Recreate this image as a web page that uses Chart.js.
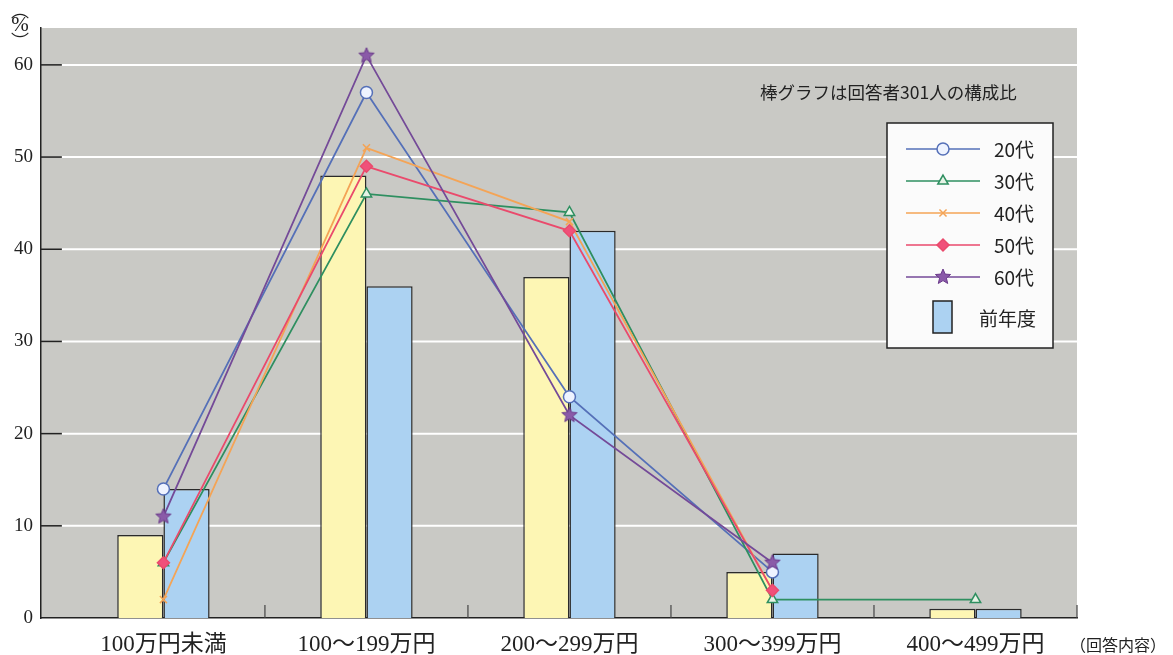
<!DOCTYPE html>
<html><head><meta charset="utf-8">
<script src="https://cdn.jsdelivr.net/npm/chart.js@4/dist/chart.umd.min.js"></script>
<style>html,body{margin:0;padding:0;background:#fff;}#wrap{width:1173px;height:655px;}</style>
</head><body><div id="wrap"><canvas id="c" width="1173" height="655"></canvas></div>
<script>
const categories = ['100万円未満','100～199万円','200～299万円','300～399万円','400～499万円'];
const currentBars = [9, 48, 37, 5, 1];      // 棒グラフ（回答者301人）
const prevYear   = [14, 36, 42, 7, 1];      // 前年度
const age20 = [14, 57, 24, 5, null];
const age30 = [6, 46, 44, 2, 2];
const age40 = [2, 51, 43, 3, null];
const age50 = [6, 49, 42, 3, null];
const age60 = [11, 61, 22, 6, null];
const yTicks = [0, 10, 20, 30, 40, 50, 60];
const note = '棒グラフは回答者301人の構成比';
const xTitle = '（回答内容）';

const toXY = arr => arr.map((v, i) => ({x: i, y: v}));

function makeStar(r, fill, stroke) {
  const c = document.createElement('canvas');
  const s = r * 2 + 4; c.width = s; c.height = s;
  const g = c.getContext('2d');
  g.beginPath();
  for (let k = 0; k < 10; k++) {
    const rr = k % 2 === 0 ? r : r * 0.45;
    const a = -Math.PI / 2 + k * Math.PI / 5;
    const px = s / 2 + rr * Math.cos(a), py = s / 2 + rr * Math.sin(a);
    k === 0 ? g.moveTo(px, py) : g.lineTo(px, py);
  }
  g.closePath(); g.fillStyle = fill; g.fill(); g.strokeStyle = stroke; g.lineWidth = 1; g.stroke();
  return c;
}
const starImg = makeStar(8, '#8a5aa8', '#6a3a8a');

const lineSeries = [
  {label:'20代', data:age20, color:'#5570b8', pointStyle:'circle', radius:6, fill:'#eef3ff'},
  {label:'30代', data:age30, color:'#2e8f60', pointStyle:'triangle', radius:6, fill:'#e6f3e6'},
  {label:'40代', data:age40, color:'#f4a456', pointStyle:'crossRot', radius:5, fill:'#f4a456'},
  {label:'50代', data:age50, color:'#ea4a6c', pointStyle:'rectRot', radius:6, fill:'#f0507a'},
  {label:'60代', data:age60, color:'#744a98', pointStyle:starImg, radius:8, fill:'#8a5aa8'}
];

const datasets = [
  {type:'bar', label:'今年度', data:toXY(currentBars), backgroundColor:'#fdf6b4', borderColor:'#2a2a2a', borderWidth:1.5, order:5, barPercentage:1, categoryPercentage:0.455},
  {type:'bar', label:'前年度', data:toXY(prevYear), backgroundColor:'#acd2f2', borderColor:'#2a2a2a', borderWidth:1.5, order:5, barPercentage:1, categoryPercentage:0.455}
].concat(lineSeries.map((s, k) => ({
  type:'line', label:s.label, data:toXY(s.data), borderColor:s.color, borderWidth:1.8,
  pointStyle:s.pointStyle, pointRadius:s.radius, pointBackgroundColor:s.fill, pointBorderColor:s.color,
  pointBorderWidth:1.5, tension:0, spanGaps:false, order:4 - k, fill:false
})));

const serif = '"Liberation Serif", "DejaVu Serif", "Noto Sans CJK JP", serif';
const sans = '"Noto Sans CJK JP", "Noto Sans", sans-serif';

const decor = {
  id:'decor',
  beforeDraw(chart) {
    const {ctx, chartArea:a, scales:{x, y}} = chart;
    ctx.save();
    ctx.fillStyle = '#c9c9c5';
    ctx.fillRect(a.left, a.top, a.right - a.left, a.bottom - a.top);
    const gx = x.getPixelForValue(-0.5);
    yTicks.forEach(t => {
      if (t === 0) return;
      const py = y.getPixelForValue(t);
      ctx.strokeStyle = '#222'; ctx.lineWidth = 1.5;
      ctx.beginPath(); ctx.moveTo(a.left, py); ctx.lineTo(gx, py); ctx.stroke();
      ctx.strokeStyle = '#ffffff'; ctx.lineWidth = 2;
      ctx.beginPath(); ctx.moveTo(gx, py); ctx.lineTo(a.right, py); ctx.stroke();
    });
    ctx.restore();
  },
  afterDatasetsDraw(chart) {
    const {ctx, chartArea:a, scales:{x}} = chart;
    ctx.save();
    ctx.strokeStyle = '#444'; ctx.lineWidth = 1.2;
    for (let i = 0; i < categories.length; i++) {
      const px = x.getPixelForValue(i + 0.5);
      ctx.beginPath(); ctx.moveTo(px, a.bottom); ctx.lineTo(px, a.bottom - 13); ctx.stroke();
    }
    ctx.restore();
  },
  afterDraw(chart) {
    const {ctx} = chart;
    ctx.save();
    ctx.fillStyle = '#222'; ctx.textAlign = 'center'; ctx.textBaseline = 'middle';
    ctx.font = '18px ' + sans;
    ctx.fillText('︵', 20, 10);
    ctx.font = '21px ' + serif;
    ctx.fillText('%', 20, 25);
    ctx.font = '18px ' + sans;
    ctx.fillText('︶', 20, 41);
    ctx.textAlign = 'left'; ctx.font = '17.5px ' + sans; ctx.fillStyle = '#222';
    ctx.fillText(note, 760, 92);
    ctx.font = '16px ' + sans;
    ctx.fillText(xTitle, 1070, 645);
    const bx = 887, by = 123, bw = 166, bh = 225;
    ctx.fillStyle = '#fbfbfb'; ctx.fillRect(bx, by, bw, bh);
    ctx.strokeStyle = '#222'; ctx.lineWidth = 1.5; ctx.strokeRect(bx, by, bw, bh);
    const rows = [149, 181, 213, 245, 277];
    lineSeries.forEach((s, k) => {
      const ry = rows[k];
      ctx.strokeStyle = s.color; ctx.lineWidth = 1.5;
      ctx.beginPath(); ctx.moveTo(906, ry); ctx.lineTo(980, ry); ctx.stroke();
      ctx.fillStyle = s.fill; ctx.strokeStyle = s.color; ctx.lineWidth = 1.5;
      Chart.helpers.drawPoint(ctx, {pointStyle:s.pointStyle, radius:s.radius, borderWidth:1.5, rotation:0}, 943, ry);
      ctx.fillStyle = '#222'; ctx.font = '19px ' + sans; ctx.textAlign = 'left';
      ctx.fillText(s.label, 994, ry + 1);
    });
    ctx.fillStyle = '#acd2f2'; ctx.fillRect(933, 301, 19, 32);
    ctx.strokeStyle = '#222'; ctx.lineWidth = 1.5; ctx.strokeRect(933, 301, 19, 32);
    ctx.fillStyle = '#222'; ctx.font = '19px ' + sans;
    ctx.fillText('前年度', 979, 319);
    ctx.restore();
  }
};

new Chart(document.getElementById('c'), {
  data:{datasets},
  options:{
    responsive:false, animation:false,
    layout:{padding:{top:28, right:96, left:0, bottom:0}},
    plugins:{legend:{display:false}, tooltip:{enabled:false}},
    scales:{
      x:{type:'linear', min:-0.603, max:4.5, offset:false,
        afterBuildTicks:s => { s.ticks = categories.map((_, i) => ({value:i})); },
        afterFit:s => { s.height = 37; },
        grid:{display:false, drawTicks:false},
        border:{display:true, color:'#222', width:1.5},
        ticks:{autoSkip:false, maxRotation:0, padding:13, color:'#222', font:{family:serif, size:23},
          callback:(v, i) => categories[i]}
      },
      y:{type:'linear', min:0, max:64,
        afterBuildTicks:s => { s.ticks = yTicks.map(v => ({value:v})); },
        afterFit:s => { s.width = 41; },
        grid:{display:false, drawTicks:false},
        border:{display:true, color:'#222', width:1.5},
        ticks:{padding:8, color:'#222', font:{family:serif, size:19}}
      }
    }
  },
  plugins:[decor]
});
</script></body></html>
